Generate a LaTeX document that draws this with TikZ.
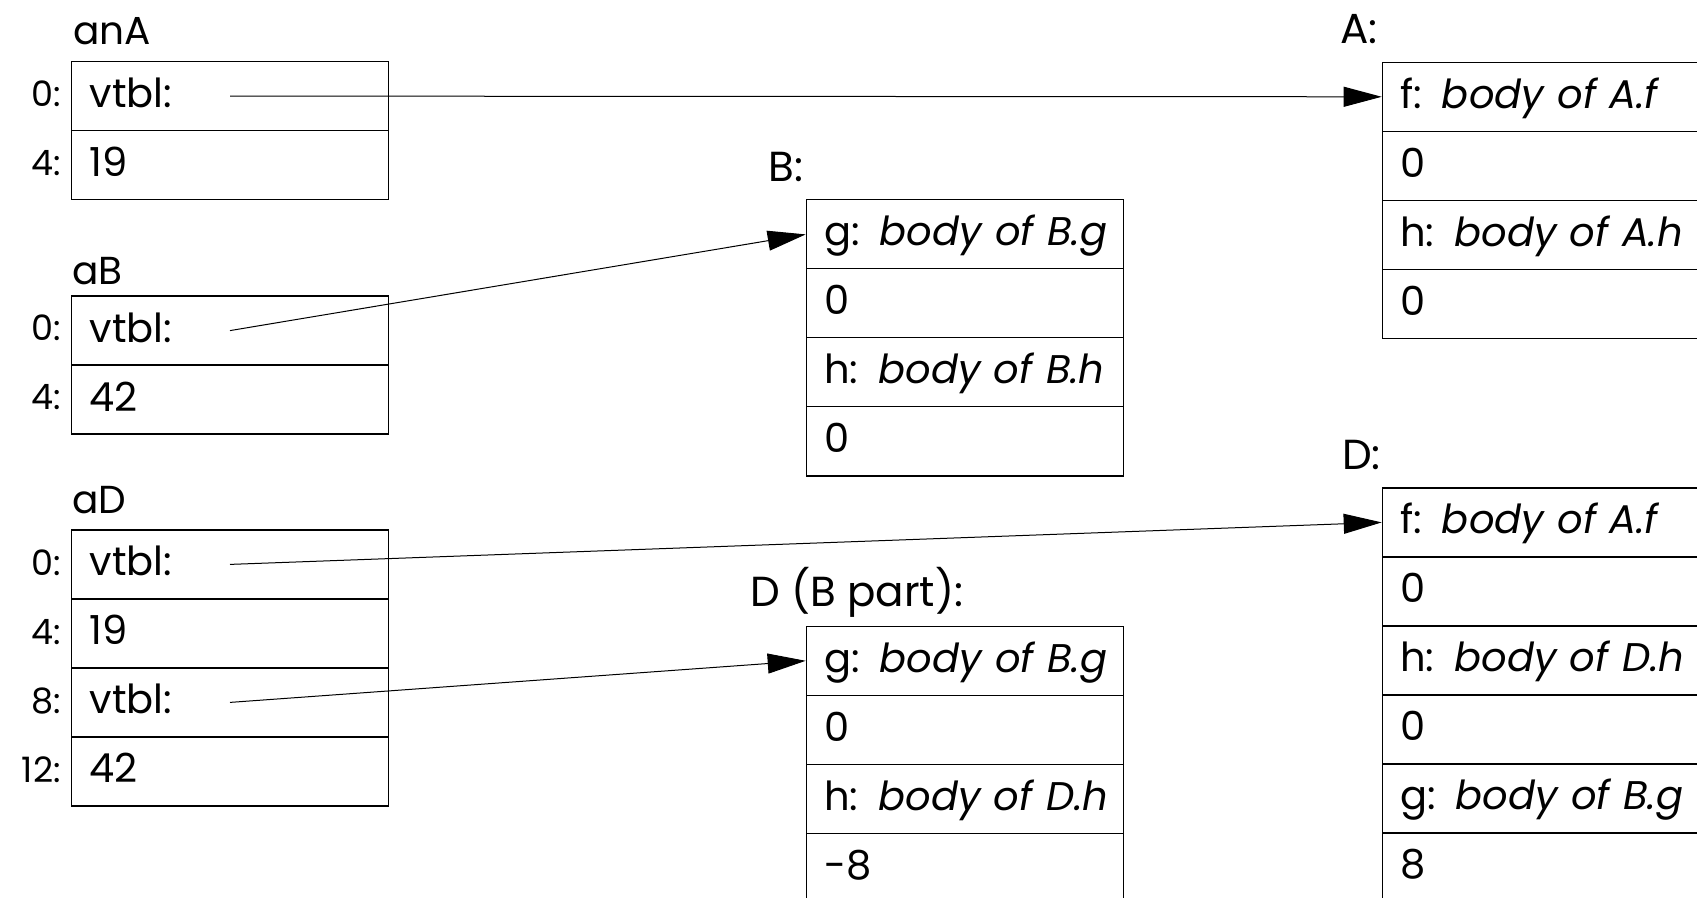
\documentclass[tikz,border=0pt]{standalone}
\usepackage{fontspec}
\setmainfont{Poppins}
\usetikzlibrary{arrows.meta}
\hbadness=10000 \hfuzz=100pt
\begin{document}
\begin{tikzpicture}[x=0.5pt,y=-0.5pt,
  cell/.style={draw, line width=0.6pt, rectangle, anchor=north west,
    minimum height=34.5pt, text width=140.5pt, inner xsep=9pt, inner ysep=0pt,
    align=left, text height=12pt, text depth=0.5pt,
    font=\fontsize{20}{24}\selectfont},
  title/.style={anchor=base west, inner sep=0pt, font=\fontsize{19.5}{23}\selectfont},
  bigtitle/.style={anchor=base west, inner sep=0pt, font=\fontsize{21}{25}\selectfont},
  offs/.style={anchor=base east, inner sep=0pt, font=\fontsize{17.5}{21}\selectfont},
  ptr/.style={line width=0.5pt, -{Triangle[length=19pt,width=10pt]}}
]
\useasboundingbox (0,0) rectangle (1697,898);
\clip (0,0) rectangle (1697,898);

% ---- object anA
\node[title] (tanA) at (72.7,45) {anA};
\node[cell] (anA0) at (71,61) {vtbl:};
\node[cell] (anA1) at (71,130) {19};
\node[offs] (oanA0) at (61,106.5) {0:};
\node[offs] (oanA1) at (61,175.5) {4:};

% ---- object aB
\node[title] (taB) at (71.7,285) {aB};
\node[cell] (aB0) at (71,295.5) {vtbl:};
\node[cell] (aB1) at (71,364.5) {42};
\node[offs] (oaB0) at (61,341) {0:};
\node[offs] (oaB1) at (61,410) {4:};

% ---- object aD
\node[title] (taD) at (71.7,513.3) {aD};
\node[cell] (aD0) at (71,529.3) {vtbl:};
\node[cell] (aD1) at (71,598.3) {19};
\node[cell] (aD2) at (71,667.3) {vtbl:};
\node[cell] (aD3) at (71,736.3) {42};
\node[offs] (oaD0) at (61,575) {0:};
\node[offs] (oaD1) at (61,644) {4:};
\node[offs] (oaD2) at (61,713) {8:};
\node[offs] (oaD3) at (61,782) {12:};

% ---- vtable B
\node[bigtitle] (tB) at (768.3,181.7) {B:};
\node[cell] (B0) at (805.7,199.3) {\mbox{g: \textit{body of B.g}}};
\node[cell] (B1) at (805.7,268.3) {0};
\node[cell] (B2) at (805.7,337.3) {\mbox{h: \textit{body of B.h}}};
\node[cell] (B3) at (805.7,406.3) {0};

% ---- vtable D (B part)
\node[bigtitle] (tDB) at (750,606.7) {D (B part):};
\node[cell] (DB0) at (805.7,625.7) {\mbox{g: \textit{body of B.g}}};
\node[cell] (DB1) at (805.7,694.7) {0};
\node[cell] (DB2) at (805.7,763.7) {\mbox{h: \textit{body of D.h}}};
\node[cell] (DB3) at (805.7,832.7) {-8};

% ---- vtable A
\node[bigtitle] (tA) at (1340,43.3) {A:};
\node[cell] (A0) at (1381.7,61.7) {\mbox{f: \textit{body of A.f}}};
\node[cell] (A1) at (1381.7,130.7) {0};
\node[cell] (A2) at (1381.7,199.7) {\mbox{h: \textit{body of A.h}}};
\node[cell] (A3) at (1381.7,268.7) {0};

% ---- vtable D
\node[bigtitle] (tD) at (1341.7,470) {D:};
\node[cell] (D0) at (1381.7,487.3) {\mbox{f: \textit{body of A.f}}};
\node[cell] (D1) at (1381.7,556.3) {0};
\node[cell] (D2) at (1381.7,625.3) {\mbox{h: \textit{body of D.h}}};
\node[cell] (D3) at (1381.7,694.3) {0};
\node[cell] (D4) at (1381.7,763.3) {\mbox{g: \textit{body of B.g}}};
\node[cell] (D5) at (1381.7,832.3) {8};

% ---- pointers
\coordinate (sanA) at ([xshift=79.5pt]anA0.west);
\coordinate (saB) at ([xshift=79.5pt]aB0.west);
\coordinate (saD0) at ([xshift=79.5pt]aD0.west);
\coordinate (saD2) at ([xshift=79.5pt]aD2.west);
\draw[ptr] (sanA) -- (A0.west);
\draw[ptr] (saB) -- (B0.west);
\draw[ptr] (saD0) -- (D0.west);
\draw[ptr] (saD2) -- (DB0.west);
\end{tikzpicture}
\end{document}
